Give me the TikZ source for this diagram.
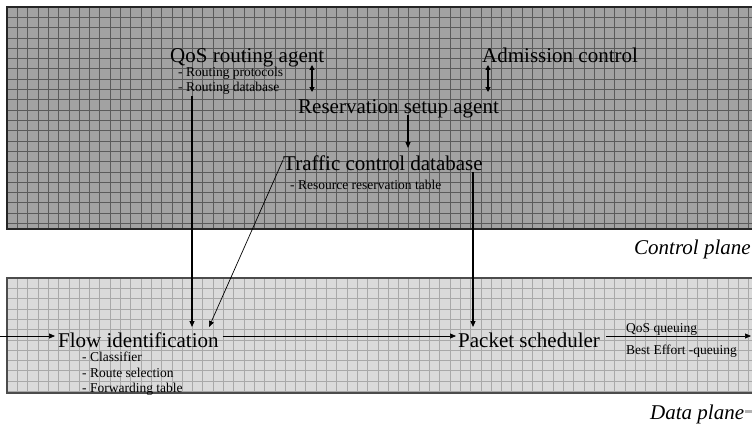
\documentclass[tikz,border=0pt]{standalone}
\usepackage{fontspec}
\setmainfont{Liberation Serif}
\usetikzlibrary{arrows.meta}
\definecolor{ctrlfill}{HTML}{A2A2A2}
\definecolor{ctrlgrid}{HTML}{5A5A5A}
\definecolor{datafill}{HTML}{DADADA}
\definecolor{datagrid}{HTML}{A8A8A8}
\tikzset{
  big/.style={inner sep=0pt, font=\fontsize{21}{21}\selectfont, anchor=base west},
  small/.style={inner sep=0pt, font=\fontsize{13.5}{13.5}\selectfont, anchor=base west},
  planelabel/.style={inner sep=0pt, font=\fontsize{21}{21}\selectfont\itshape, anchor=base west},
  arr/.style={line width=1.1pt, -{Triangle[length=6pt,width=5pt]}},
  darr/.style={line width=1.1pt, {Triangle[length=5pt,width=5pt]}-{Triangle[length=5pt,width=5pt]}},
  thinarr/.style={line width=0.7pt, -{Triangle[length=6pt,width=5pt]}},
}
\begin{document}
\begin{tikzpicture}[x=1pt,y=-1pt]
\useasboundingbox (0,0) rectangle (752,428);
\clip (0,0) rectangle (752,428);
\fill[white] (0,0) rectangle (752,428);
% control plane
\fill[ctrlfill] (7,7) rectangle (770,229);
\foreach \i in {1,...,74} {\draw[ctrlgrid, line width=0.6pt] (7+\i*10.3,7) -- (7+\i*10.3,229);}
\foreach \j in {1,...,21} {\draw[ctrlgrid, line width=0.6pt] (7,7+\j*10.3) -- (770,7+\j*10.3);}
\draw[black!85, line width=1.3pt] (7,7) rectangle (770,229);
% data plane
\fill[datafill] (7,278) rectangle (770,393);
\foreach \i in {1,...,74} {\draw[datagrid, line width=0.6pt] (7+\i*10.3,278) -- (7+\i*10.3,393);}
\foreach \j in {1,...,11} {\draw[datagrid, line width=0.6pt] (7,278+\j*10.3) -- (770,278+\j*10.3);}
\draw[black!70, line width=1.3pt] (7,278) rectangle (770,393);
% texts
\node[big] (qos) at (170,63) {QoS routing agent};
\node[small] (rp) at (178,77) {- Routing protocols};
\node[small] (rdb) at (178,92) {- Routing database};
\node[big] (adm) at (482,63) {Admission control};
\node[big] (res) at (298,113) {Reservation setup agent};
\node[big] (tcd) at (283,170) {Traffic control database};
\node[small] (rrt) at (290,189) {- Resource reservation table};
\node[planelabel] (cp) at (634,254) {Control plane};
\node[big] (flow) at (58,347) {Flow identification};
\node[small] (cl) at (82,361) {- Classifier};
\node[small] (rs) at (82,377) {- Route selection};
\node[small] (ft) at (82,392) {- Forwarding table};
\node[big] (ps) at (458,347) {Packet scheduler};
\node[small] (qq) at (626,332) {QoS queuing};
\node[small] (be) at (626,354) {Best Effort -queuing};
\node[planelabel] (dp) at (650,419) {Data plane};
\fill[black!30] ([xshift=1pt,yshift=6pt]dp.base east) rectangle ++(12,-3);
% connectors
\coordinate (in) at (0,336);
\coordinate (out) at (751,336);
\draw[darr] ([yshift=-2pt]qos.base -| 312,0) -- ([yshift=21pt]res.base -| 312,0);
\draw[darr] ([yshift=-2pt]adm.base -| 488,0) -- ([yshift=21pt]res.base -| 488,0);
\draw[arr] ([yshift=-2pt]res.base -| 408,0) -- ([yshift=22pt]tcd.base -| 408,0);
\draw[arr] ([yshift=-4pt]rdb.base -| 192,0) -- ([yshift=20pt]flow.base -| 192,0);
\draw[thinarr] ([yshift=10pt]tcd.base west) -- ([yshift=20pt]flow.base -| 209,0);
\draw[arr] ([yshift=-2pt]tcd.base -| 473,0) -- ([yshift=20pt]ps.base -| 473,0);
\draw[thinarr] (in) -- ([xshift=-3pt,yshift=11pt]flow.base west);
\draw[thinarr] ([xshift=4pt,yshift=11pt]flow.base east) -- ([xshift=-2pt,yshift=11pt]ps.base west);
\draw[thinarr] ([xshift=6pt,yshift=11pt]ps.base east) -- (out);
\end{tikzpicture}
\end{document}
